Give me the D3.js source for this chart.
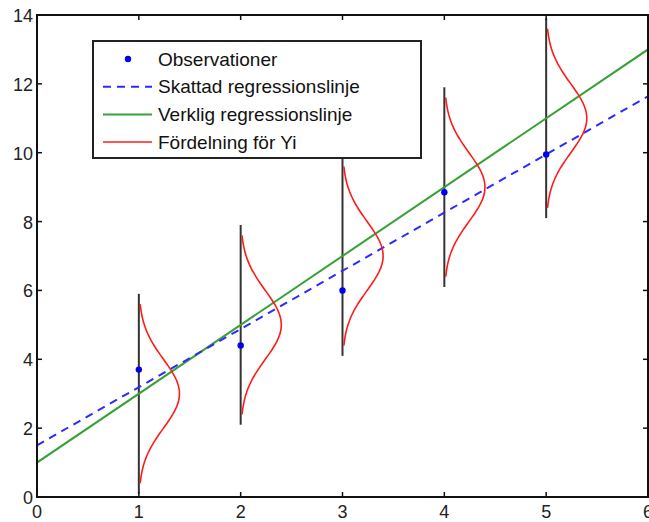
<!DOCTYPE html>
<html>
<head>
<meta charset="utf-8">
<script src="https://cdn.jsdelivr.net/npm/d3@7"></script>
<style>
  body { margin: 0; background: #fff; }
  text { font-family: "Liberation Sans", Arial, sans-serif; }
</style>
</head>
<body>
<div id="chart"></div>
<script>
// observations
const obsX = [1, 2, 3, 4, 5];
const obsY = [3.7, 4.4, 6.0, 8.85, 9.95];
// true line y = 1 + 2x, estimated line y = 1.5 + 1.69x
const trueLine = [1, 2];
const estLine = [1.5, 1.69];
const sigma = 1;
const xTicks = [0, 1, 2, 3, 4, 5, 6];
const yTicks = [0, 2, 4, 6, 8, 10, 12, 14];
const legendLabels = ['Observationer', 'Skattad regressionslinje', 'Verklig regressionslinje', 'Fördelning för Yi'];

const W = 649, H = 522;
const m = { top: 15, right: 1, bottom: 25, left: 37 };

const svg = d3.select('#chart').append('svg')
  .attr('width', W).attr('height', H);

const x = d3.scaleLinear().domain([0, 6]).range([m.left, W - m.right]);
const y = d3.scaleLinear().domain([0, 14]).range([H - m.bottom, m.top]);

svg.append('clipPath').attr('id', 'clip')
  .append('rect')
  .attr('x', m.left).attr('y', m.top)
  .attr('width', x(6) - x(0)).attr('height', y(0) - y(14));

const plot = svg.append('g').attr('clip-path', 'url(#clip)');

// vertical lines at each x
plot.selectAll('.vline')
  .data(obsX)
  .enter().append('line')
  .attr('x1', d => x(d)).attr('x2', d => x(d))
  .attr('y1', d => y(trueLine[0] + trueLine[1] * d - 2.9 * sigma))
  .attr('y2', d => y(trueLine[0] + trueLine[1] * d + 2.9 * sigma))
  .attr('stroke', '#333')
  .attr('stroke-width', 2);

// regression lines
const lineGen = d3.line().x(d => x(d[0])).y(d => y(d[1]));
plot.append('path')
  .attr('d', lineGen([[0, trueLine[0]], [6, trueLine[0] + 6 * trueLine[1]]]))
  .attr('stroke', '#36a136').attr('stroke-width', 2).attr('fill', 'none');
plot.append('path')
  .attr('d', lineGen([[0, estLine[0]], [6, estLine[0] + 6 * estLine[1]]]))
  .attr('stroke', '#2b2bff').attr('stroke-width', 2).attr('fill', 'none')
  .attr('stroke-dasharray', '8,6');

// normal densities
const pdf = z => Math.exp(-z * z / 2) / Math.sqrt(2 * Math.PI);
obsX.forEach(xi => {
  const mu = trueLine[0] + trueLine[1] * xi;
  const pts = d3.range(-2.6, 2.6001, 0.05).map(z => [xi + pdf(z) / sigma, mu + z * sigma]);
  plot.append('path')
    .attr('d', d3.line().x(d => x(d[0])).y(d => y(d[1])).curve(d3.curveBasis)(pts))
    .attr('stroke', '#ff1a1a').attr('stroke-width', 1.6).attr('fill', 'none');
});

// observations
plot.selectAll('.obs')
  .data(obsX)
  .enter().append('circle')
  .attr('cx', d => x(d))
  .attr('cy', (d, i) => y(obsY[i]))
  .attr('r', 3.2)
  .attr('fill', '#0000ee');

// axes box
const axisG = svg.append('g');
axisG.append('rect')
  .attr('x', x(0)).attr('y', y(14))
  .attr('width', x(6) - x(0)).attr('height', y(0) - y(14))
  .attr('fill', 'none').attr('stroke', '#111').attr('stroke-width', 2);

xTicks.forEach(t => {
  axisG.append('line').attr('x1', x(t)).attr('x2', x(t))
    .attr('y1', y(0)).attr('y2', y(0) - 5).attr('stroke', '#111').attr('stroke-width', 1.5);
  axisG.append('line').attr('x1', x(t)).attr('x2', x(t))
    .attr('y1', y(14)).attr('y2', y(14) + 5).attr('stroke', '#111').attr('stroke-width', 1.5);
  axisG.append('text')
    .attr('x', x(t)).attr('y', y(0) + 21)
    .attr('text-anchor', 'middle')
    .style('font-size', '18px').attr('fill', '#222')
    .text(t);
});

yTicks.forEach(t => {
  axisG.append('line').attr('x1', x(0)).attr('x2', x(0) + 5)
    .attr('y1', y(t)).attr('y2', y(t)).attr('stroke', '#111').attr('stroke-width', 1.5);
  axisG.append('line').attr('x1', x(6)).attr('x2', x(6) - 5)
    .attr('y1', y(t)).attr('y2', y(t)).attr('stroke', '#111').attr('stroke-width', 1.5);
  axisG.append('text')
    .attr('x', x(0) - 4).attr('y', y(t) + 7)
    .attr('text-anchor', 'end')
    .style('font-size', '18px').attr('fill', '#222')
    .text(t);
});

// legend
const lg = svg.append('g');
lg.append('rect')
  .attr('x', 93).attr('y', 41).attr('width', 328).attr('height', 117)
  .attr('fill', '#fff').attr('stroke', '#222').attr('stroke-width', 2);

legendLabels.forEach((label, i) => {
  const cy = 59 + i * 27.7;
  if (i === 0) {
    lg.append('circle').attr('cx', 128).attr('cy', cy).attr('r', 3.2).attr('fill', '#0000ee');
  } else {
    const sym = lg.append('line').attr('x1', 103).attr('x2', 152)
      .attr('y1', cy).attr('y2', cy).attr('stroke-width', 2);
    if (i === 1) sym.attr('stroke', '#2b2bff').attr('stroke-dasharray', '8,6');
    if (i === 2) sym.attr('stroke', '#36a136');
    if (i === 3) sym.attr('stroke', '#ff5555');
  }
  lg.append('text')
    .attr('x', 158).attr('y', cy + 6.5)
    .style('font-size', '19px').attr('fill', '#111')
    .text(label);
});
</script>
</body>
</html>
